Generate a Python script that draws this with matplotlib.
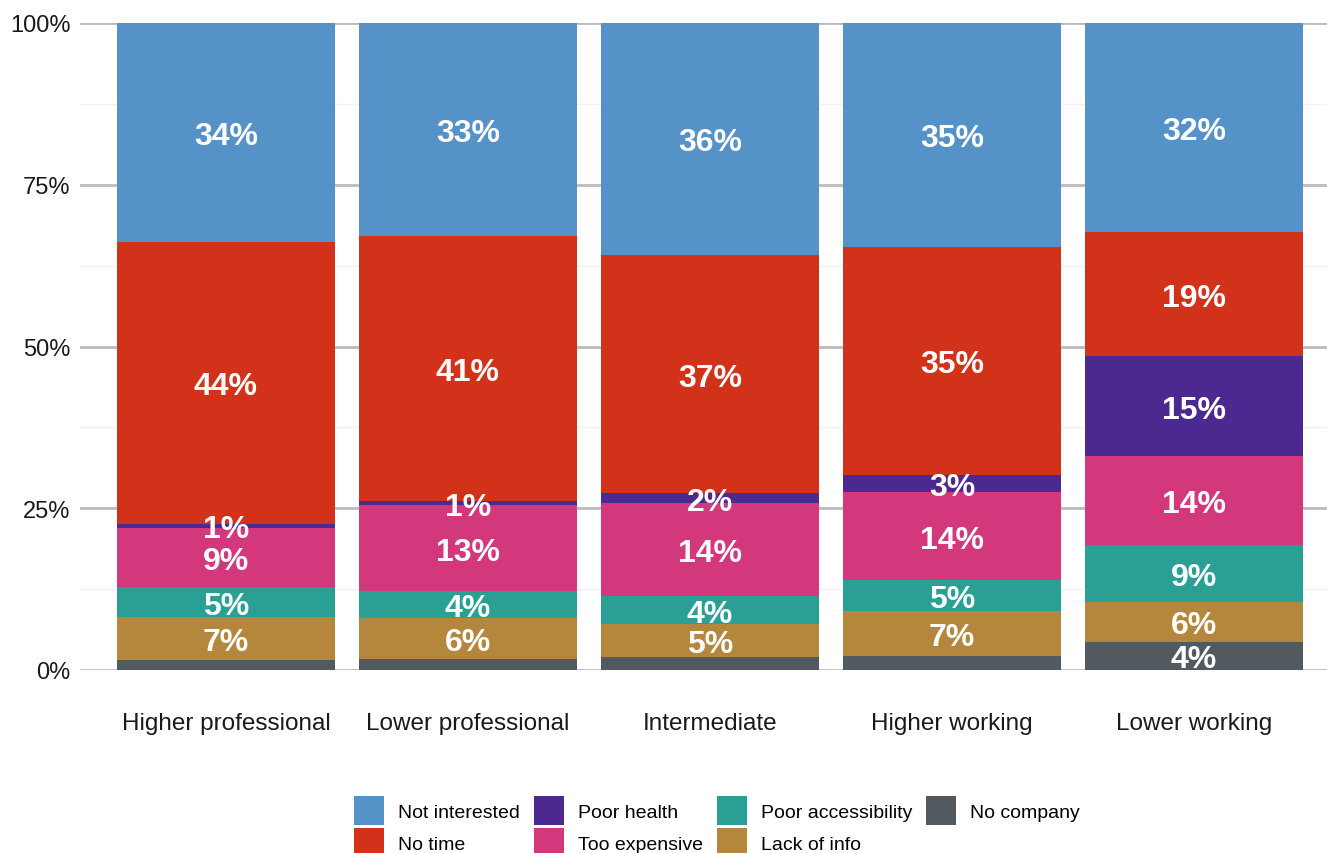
import numpy as np
import matplotlib
matplotlib.use("Agg")
import matplotlib.pyplot as plt
from matplotlib.ticker import MultipleLocator, FuncFormatter

plt.rcParams["font.family"] = ["Liberation Sans", "DejaVu Sans"]

categories = ["Higher professional", "Lower professional", "Intermediate",
              "Higher working", "Lower working"]

# Shares of respondents (%) by reason, stacked bottom to top
no_company = [1.55, 1.75, 2.06, 2.12, 4.37]
lack_of_info = [6.69, 6.29, 5.00, 7.00, 6.14]
poor_accessibility = [4.54, 4.17, 4.38, 4.74, 8.81]
too_expensive = [9.17, 13.29, 14.32, 13.65, 13.71]
poor_health = [0.66, 0.62, 1.55, 2.63, 15.45]
no_time = [43.54, 40.96, 36.84, 35.24, 19.22]
not_interested = [33.85, 32.92, 35.85, 34.62, 32.30]

series = [
    ("No company", no_company, "#52595f"),
    ("Lack of info", lack_of_info, "#b4873d"),
    ("Poor accessibility", poor_accessibility, "#2aa095"),
    ("Too expensive", too_expensive, "#d3377c"),
    ("Poor health", poor_health, "#4b2991"),
    ("No time", no_time, "#d23219"),
    ("Not interested", not_interested, "#5592c8"),
]

fig = plt.figure(figsize=(13.27, 8.54), dpi=100)
ax = fig.add_axes([80 / 1327, 1 - 671 / 854, 1 - 80 / 1327, (671 - 24) / 854])

x = np.arange(len(categories))
bottom = np.zeros(len(categories))
handles = {}
for name, vals, color in series:
    vals = np.asarray(vals, dtype=float)
    bars = ax.bar(x, vals, width=0.9, bottom=bottom, color=color,
                  label=name, zorder=3)
    handles[name] = bars
    for xi, b, v in zip(x, bottom, vals):
        if name == "No company" and v < 3:
            continue
        ax.text(xi, b + v / 2, f"{v:.0f}%", ha="center", va="center_baseline",
                color="white", fontsize=23, fontweight="bold", zorder=4)
    bottom += vals

ax.set_xlim(-0.603, 4.55)
ax.set_ylim(0, 100)

ax.yaxis.set_major_locator(MultipleLocator(25))
ax.yaxis.set_minor_locator(MultipleLocator(12.5))
ax.yaxis.set_major_formatter(FuncFormatter(lambda v, p: f"{v:.0f}%"))
ax.grid(axis="y", which="major", color="#bbbbbb", linewidth=2, zorder=0)
ax.grid(axis="y", which="minor", color="#f2f2f2", linewidth=1, zorder=0)
ax.set_axisbelow(True)

ax.set_xticks(x)
ax.set_xticklabels(categories)
ax.tick_params(axis="x", length=0, pad=30, labelsize=17.5, labelcolor="#1a1a1a")
ax.tick_params(axis="y", which="both", length=0, pad=7, labelsize=17,
               labelcolor="#1a1a1a")

for s in ax.spines.values():
    s.set_visible(False)

order = ["Not interested", "No time", "Poor health", "Too expensive",
         "Poor accessibility", "Lack of info", "No company"]
fig.legend([handles[n] for n in order], order, ncol=4, frameon=False,
           loc="upper left", bbox_to_anchor=(354 / 1327, 1 - 797 / 854),
           borderaxespad=0, borderpad=0, fontsize=14,
           handlelength=1.54, handleheight=1.93, handletextpad=0.72,
           columnspacing=0.72, labelspacing=0.15)

fig.savefig("out.png", dpi=100)
